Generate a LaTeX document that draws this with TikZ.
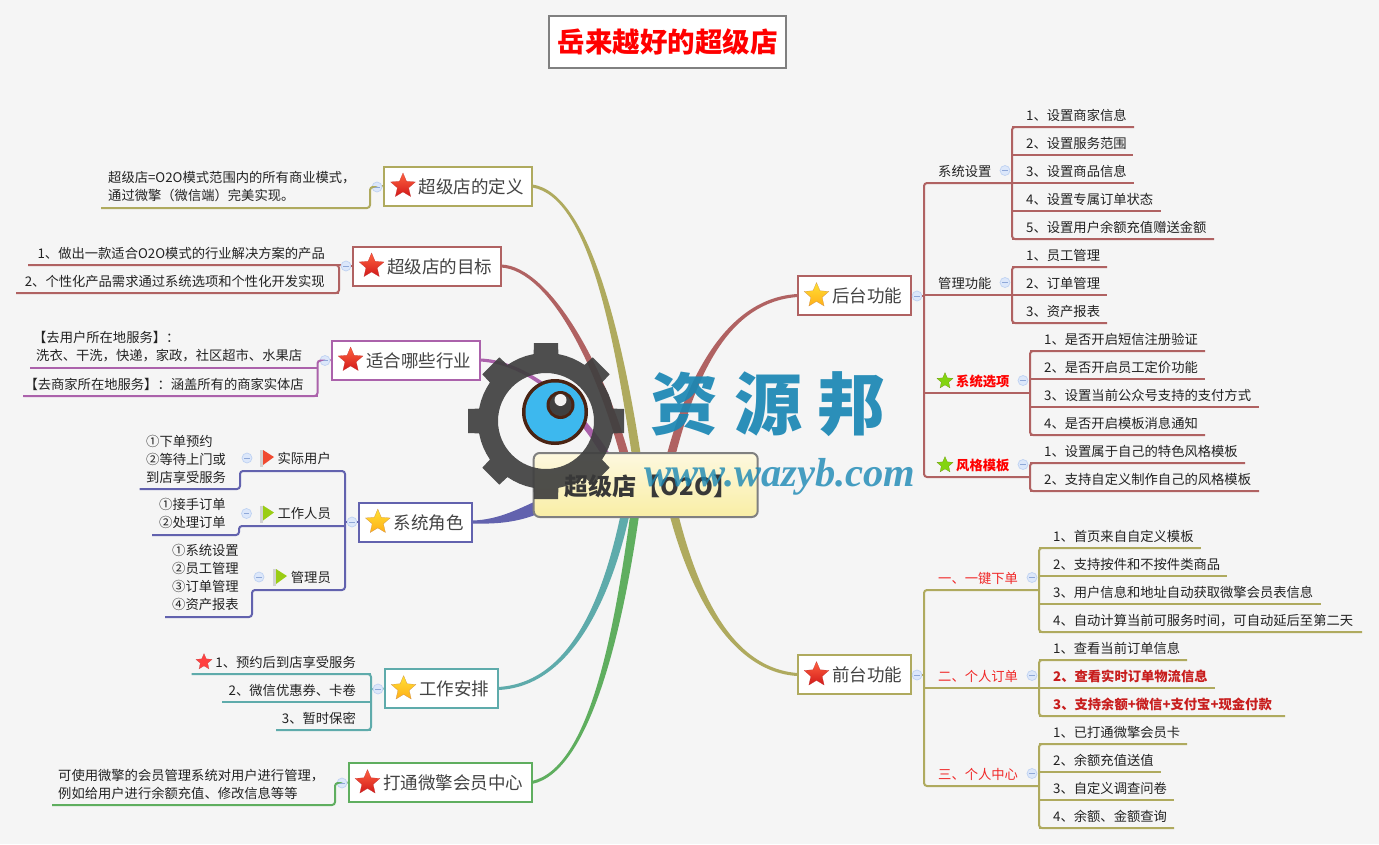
\documentclass[tikz,border=0pt]{standalone}
\usepackage{fontspec}
\setmainfont{Noto Sans CJK SC}
\newfontfamily\wmark{Liberation Serif}
\usetikzlibrary{shapes.geometric,calc}
\definecolor{bgc}{HTML}{F5F5F5}
\definecolor{colA}{HTML}{AFAA5E}
\definecolor{colB}{HTML}{B06262}
\definecolor{colC}{HTML}{AB62AB}
\definecolor{colD}{HTML}{6262AE}
\definecolor{colE}{HTML}{5EABAB}
\definecolor{colF}{HTML}{5FAE5F}
\definecolor{gearc}{HTML}{404040}
\definecolor{wmblue}{HTML}{1A87B4}
\definecolor{txt}{HTML}{222222}
\definecolor{redt}{HTML}{F02828}
\definecolor{redb}{HTML}{C81E1E}
\definecolor{flagred}{HTML}{F04A30}
\definecolor{flaggreen}{HTML}{9ACD14}
\definecolor{eyeblue}{HTML}{3DB8EE}
\definecolor{eyering}{HTML}{4A2414}
\definecolor{btnfill}{HTML}{DCE7FA}
\definecolor{btnline}{HTML}{BFD2F2}
\definecolor{btnbar}{HTML}{8FA8D8}
\pgfdeclarelayer{bglayer}\pgfdeclarelayer{curves}
\pgfsetlayers{bglayer,curves,main}
\tikzset{
 leaf/.style={inner sep=0pt,text=txt,font=\fontsize{13.3}{18}\selectfont},
 multi/.style={leaf,align=left},
 conn/.style={draw=cur,line width=2pt},
 spine/.style={draw=cur,line width=2pt,rounded corners=3pt},
 topic/.style={draw=cur,line width=2pt,outer sep=0pt,fill=white,minimum height=39pt,inner xsep=8.7pt,inner ysep=0pt,text height=17pt,text depth=2.5pt,text=txt!85!white,font=\fontsize{17.5}{20}\selectfont},
 sublab/.style={inner sep=0pt,text=txt,font=\fontsize{13.3}{18}\selectfont},
 btnc/.style={circle,minimum size=10pt,inner sep=0pt,fill=btnfill,draw=btnline,line width=.7pt,
   path picture={\draw[btnbar,line width=.8pt] ([xshift=-2.6pt]path picture bounding box.center) -- ([xshift=2.6pt]path picture bounding box.center);}},
 starbase/.style={star,star points=5,star point ratio=2.2,inner sep=0pt},
 redstar/.style={starbase,minimum size=26pt,top color=red!65!orange!75,bottom color=red!80!black!90,draw=red!70!black!80,line width=.2pt},
 goldstar/.style={starbase,minimum size=26pt,top color=yellow!70!orange!80,bottom color=orange!70!yellow!90,draw=orange!70!black!70,line width=.2pt},
 smallred/.style={starbase,minimum size=17pt,fill=red!75,draw=red!70!black!70,line width=.2pt},
 greenstar/.style={starbase,minimum size=17pt,fill=flaggreen!85!green,draw=flaggreen!70!black,line width=.2pt},
}
\newcommand\leafR[6]{\coordinate (#1s) at (#2,#4);\coordinate (#1e) at (#3,#4);
 \node[leaf,anchor=base west] (#1) at (#5,#4-7) {#6};\draw[conn] (#1s) -- (#1e);}
\newcommand\leafL[6]{\coordinate (#1s) at (#2,#4);\coordinate (#1e) at (#3,#4);
 \node[leaf,anchor=base east] (#1) at (#5,#4-7) {#6};\draw[conn] (#1s) -- (#1e);}
% start, control 1, control 2, end, half widths at the end
\newcommand\taper[6]{\begin{pgfonlayer}{curves}\fill[cur] ([yshift=1.5pt]#1) .. controls ([yshift=2.2pt]#2) and ([xshift=#5,yshift=#6]#3) .. ([xshift=#5,yshift=#6]#4) -- ([xshift=-#5,yshift=-#6]#4) .. controls ([xshift=-#5,yshift=-#6]#3) and ([yshift=-2.2pt]#2) .. ([yshift=-1.5pt]#1) -- cycle;\end{pgfonlayer}}
\newcommand\flagicon[4]{\fill[gray!35] (#2,#3-8) rectangle (#2+3,#3+9);
 \fill[#4] (#2+3,#3-8) -- (#2+14,#3-1) -- (#2+3,#3+7) -- cycle;\coordinate (#1) at (#2,#3);}
\begin{document}
\begin{tikzpicture}[x=1pt,y=-1pt]
\begin{pgfonlayer}{bglayer}
\path[use as bounding box,fill=bgc] (0,0) rectangle (1379,844);
\end{pgfonlayer}
% title
\node[draw=gray,line width=2pt,outer sep=0pt,fill=white,minimum width=237pt,minimum height=52pt,inner sep=0pt,text=red,font=\fontsize{27.5}{30}\bfseries\selectfont] (title) at (667.5,42) {岳来越好的超级店};
% central box
\definecolor{cctop}{HTML}{FDF8DF}\definecolor{ccbot}{HTML}{F9EEA5}
\node[draw=gray,line width=2pt,outer sep=0pt,rounded corners=6pt,top color=cctop,bottom color=ccbot,minimum width=224pt,minimum height=64pt] (cc) at (645.7,485) {};
\coordinate (o1) at (640,480);\coordinate (o2) at (631,480);\coordinate (o3) at (620,480);
\coordinate (o4) at (545,504);\coordinate (o5) at (630,490);\coordinate (o6) at (638,490);
\coordinate (o7) at (668,490);\coordinate (o8) at (665,480);

% ---------- left: definition
\colorlet{cur}{colA}
\node[topic,anchor=west] (t1) at (384,186) {\hspace*{26pt}超级店的定义};
\node[redstar] (s1) at ($(t1.west)+(19,0)$) {};
\node[btnc] (b1) at (377,187) {};
\node[multi,anchor=west] (d1) at (108,187) {超级店=O2O模式范围内的所有商业模式，\\通过微擎（微信端）完美实现。};
\coordinate (d1s) at (370,187);\coordinate (d1c) at (370,208);\coordinate (d1e) at (101,208);
\draw[conn] (t1.west) -- (b1);\draw[spine] (b1) -- (d1s) -- (d1c) -- (d1e);
\taper{t1.east}{590,195}{620,340}{o1}{4.5pt}{0pt}

% ---------- left: goal
\colorlet{cur}{colB}
\node[topic,anchor=west] (t2) at (352.6,266) {\hspace*{26pt}超级店的目标};
\node[redstar] (s2) at ($(t2.west)+(19,0)$) {};
\node[btnc] (b2) at (346,266) {};
\leafL{g1}{339}{28}{265}{325}{1、做出一款适合O2O模式的行业解决方案的产品}
\leafL{g2}{339}{16}{293}{325}{2、个性化产品需求通过系统选项和个性化开发实现}
\draw[conn] (t2.west) -- (b2);\draw[conn] (b2) -- (g1s);
\draw[spine] (g1e) -- (g1s) -- (g2s) -- (g2e);
\taper{t2.east}{550,268}{605,370}{o2}{4.5pt}{0pt}

% ---------- left: industry
\colorlet{cur}{colC}
\node[topic,anchor=west] (t3) at (331.6,360) {\hspace*{26pt}适合哪些行业};
\node[redstar] (s3) at ($(t3.west)+(19,0)$) {};
\node[btnc] (b3) at (325,360.5) {};
\node[multi,anchor=west] (i1) at (33,347) {【去用户所在地服务】：\\\hspace*{3pt}洗衣、干洗，快递，家政，社区超市、水果店};
\coordinate (i1s) at (317.5,368);\coordinate (i1e) at (30,368);\coordinate (i0) at (317.5,360.5);
\leafL{i2}{317.5}{23.4}{396}{304}{【去商家所在地服务】：涵盖所有的商家实体店}
\draw[conn] (t3.west) -- (b3);\draw[conn] (i1s) -- (i1e);
\draw[spine] (b3) -- (i0) -- (i2s) -- (i2e);
\taper{t3.east}{530,362}{585,410}{o3}{4.5pt}{0pt}

% ---------- left: roles
\colorlet{cur}{colD}
\node[topic,anchor=west] (t4) at (358.8,522) {\hspace*{26pt}系统角色};
\node[goldstar] (s4) at ($(t4.west)+(19,0)$) {};
\node[btnc] (b4) at (352,522) {};
\node[sublab,anchor=east] (r1) at (331,458) {实际用户};
\node[sublab,anchor=east] (r2) at (331,513.5) {工作人员};
\node[sublab,anchor=east] (r3) at (331,577) {管理员};
\flagicon{f1}{260}{458}{flagred}
\flagicon{f2}{260}{513.5}{flaggreen}
\flagicon{f3}{273}{577}{flaggreen}
\node[btnc] (b41) at (247,458) {};
\node[btnc] (b42) at (246.5,513.5) {};
\node[btnc] (b43) at (259,577) {};
\node[multi,anchor=west] (m1) at (146,459) {①下单预约\\②等待上门或\\到店享受服务};
\node[multi,anchor=west] (m2) at (159,513) {①接手订单\\②处理订单};
\node[multi,anchor=west] (m3) at (172,577) {①系统设置\\②员工管理\\③订单管理\\④资产报表};
\coordinate (p0) at (345,522);
\coordinate (p1) at (345,471);\coordinate (p1a) at (240,471);\coordinate (p1b) at (240,489);\coordinate (p1c) at (139.5,489);
\coordinate (p2) at (345,526);\coordinate (p2a) at (239,526);\coordinate (p2b) at (239,535);\coordinate (p2c) at (152,535);
\coordinate (p3) at (345,590);\coordinate (p3a) at (252,590);\coordinate (p3b) at (252,617);\coordinate (p3c) at (165,617);
\draw[conn] (t4.west) -- (b4);\draw[conn] (b4) -- (p0);
\draw[spine] (p1c) -- (p1b) -- (p1a) -- (p1) -- (p3) -- (p3a) -- (p3b) -- (p3c);
\draw[spine] (p2) -- (p2a) -- (p2b) -- (p2c);
\taper{t4.east}{500,522}{520,515}{o4}{0pt}{7pt}

% ---------- left: work
\colorlet{cur}{colE}
\node[topic,anchor=west] (t5) at (384.6,688.5) {\hspace*{26pt}工作安排};
\node[goldstar] (s5) at ($(t5.west)+(19,0)$) {};
\node[btnc] (b5) at (378,689) {};
\leafL{w1}{371}{191.5}{674}{356}{1、预约后到店享受服务}
\leafL{w2}{371}{222}{702}{356}{2、微信优惠券、卡卷}
\leafL{w3}{371}{276}{730}{356}{3、暂时保密}
\node[smallred] (s51) at (204,662) {};
\draw[conn] (t5.west) -- (b5);\draw[conn] (b5) -- ($(w1s)!.27!(w3s)$);
\draw[spine] (w1e) -- (w1s) -- (w3s) -- (w3e);
\taper{t5.east}{570,685}{610,600}{o5}{-4.5pt}{0pt}

% ---------- left: member centre
\colorlet{cur}{colF}
\node[topic,anchor=west] (t6) at (348.5,782.5) {\hspace*{26pt}打通微擎会员中心};
\node[redstar] (s6) at ($(t6.west)+(19,0)$) {};
\node[btnc] (b6) at (342,783) {};
\node[multi,anchor=west] (v1) at (58,784) {可使用微擎的会员管理系统对用户进行管理，\\例如给用户进行余额充值、修改信息等等};
\coordinate (v1s) at (335,783);\coordinate (v1c) at (335,805);\coordinate (v1e) at (52,805);
\draw[conn] (t6.west) -- (b6);\draw[spine] (b6) -- (v1s) -- (v1c) -- (v1e);
\taper{t6.east}{590,770}{620,630}{o6}{-4.5pt}{0pt}

% ---------- right: back end
\colorlet{cur}{colB}
\node[topic,anchor=west] (t7) at (797.5,295.5) {\hspace*{26pt}后台功能};
\node[goldstar] (s7) at ($(t7.west)+(19,0)$) {};
\node[btnc] (b7) at (917,296) {};
\node[sublab,anchor=base west] (a1) at (938,176) {系统设置};
\node[sublab,anchor=base west] (a2) at (938,288) {管理功能};
\node[sublab,anchor=base west,text=red,font=\fontsize{13.3}{18}\bfseries\selectfont] (a3) at (956,386) {系统选项};
\node[sublab,anchor=base west,text=red,font=\fontsize{13.3}{18}\bfseries\selectfont] (a4) at (956,470) {风格模板};
\node[greenstar] (sa3) at (945,381) {};
\node[greenstar] (sa4) at (945,465) {};
\node[btnc] (ba1) at (1005,170.5) {};
\node[btnc] (ba2) at (1005,282.5) {};
\node[btnc] (ba3) at (1023,380.5) {};
\node[btnc] (ba4) at (1023,464.5) {};
\leafR{a11}{1012}{1134}{127}{1026}{1、设置商家信息}
\leafR{a12}{1012}{1133}{155}{1026}{2、设置服务范围}
\leafR{a13}{1012}{1134}{183}{1026}{3、设置商品信息}
\leafR{a14}{1012}{1161}{211}{1026}{4、设置专属订单状态}
\leafR{a15}{1012}{1214}{239}{1026}{5、设置用户余额充值赠送金额}
\draw[spine] (a11e) -- (a11s) -- (a15s) -- (a15e);
\leafR{a21}{1012}{1107}{267}{1026}{1、员工管理}
\leafR{a22}{1012}{1107}{295}{1026}{2、订单管理}
\leafR{a23}{1012}{1107}{323}{1026}{3、资产报表}
\draw[spine] (a21e) -- (a21s) -- (a23s) -- (a23e);
\leafR{a31}{1030}{1205}{351}{1044}{1、是否开启短信注册验证}
\leafR{a32}{1030}{1205}{379}{1044}{2、是否开启员工定价功能}
\leafR{a33}{1030}{1259}{407}{1044}{3、设置当前公众号支持的支付方式}
\leafR{a34}{1030}{1205}{435}{1044}{4、是否开启模板消息通知}
\draw[spine] (a31e) -- (a31s) -- (a34s) -- (a34e);
\leafR{a41}{1030}{1245}{463}{1044}{1、设置属于自己的特色风格模板}
\leafR{a42}{1030}{1259}{491}{1044}{2、支持自定义制作自己的风格模板}
\draw[spine] (a41e) -- (a41s) -- (a42s) -- (a42e);
\coordinate (ra0) at (924,296);
\coordinate (ra1) at (924,183);\coordinate (ra4) at (924,477);
\coordinate (ra2) at (924,295);\coordinate (ra3) at (924,393);
\coordinate (ra2e) at (1012,295);\coordinate (ra3e) at (1030,393);
\coordinate (ra1e) at (1012,183);\coordinate (ra4e) at (1030,477);
\draw[conn] (t7.east) -- (b7);\draw[conn] (b7) -- (ra0);
\draw[spine] (ra1e) -- (ra1) -- (ra4) -- (ra4e);
\draw[conn] (ra2) -- (ra2e);\draw[conn] (ra3) -- (ra3e);
\taper{t7.west}{730,300}{690,370}{o8}{-4.5pt}{0pt}

% ---------- right: front end
\colorlet{cur}{colA}
\node[topic,anchor=west] (t8) at (797.5,674.5) {\hspace*{26pt}前台功能};
\node[redstar] (s8) at ($(t8.west)+(19,0)$) {};
\node[btnc] (b8) at (917,675) {};
\node[sublab,anchor=base west,text=redt] (e1) at (938,583) {一、一键下单};
\node[sublab,anchor=base west,text=redt] (e2) at (938,681) {二、个人订单};
\node[sublab,anchor=base west,text=redt] (e3) at (938,779) {三、个人中心};
\node[btnc] (be1) at (1032,577.5) {};
\node[btnc] (be2) at (1032,675.5) {};
\node[btnc] (be3) at (1032,773.5) {};
\leafR{e11}{1039}{1200.5}{548}{1053}{1、首页来自自定义模板}
\leafR{e12}{1039}{1226.5}{576}{1053}{2、支持按件和不按件类商品}
\leafR{e13}{1039}{1321}{604}{1053}{3、用户信息和地址自动获取微擎会员表信息}
\leafR{e14}{1039}{1362}{632}{1053}{4、自动计算当前可服务时间，可自动延后至第二天}
\draw[spine] (e11e) -- (e11s) -- (e14s) -- (e14e);
\leafR{e21}{1039}{1187}{660}{1053}{1、查看当前订单信息}
\leafR{e22}{1039}{1215}{688}{1053}{\textcolor{redb}{\bfseries 2、查看实时订单物流信息}}
\leafR{e23}{1039}{1285}{716}{1053}{\textcolor{redb}{\bfseries 3、支持余额+微信+支付宝+现金付款}}
\draw[spine] (e21e) -- (e21s) -- (e23s) -- (e23e);
\leafR{e31}{1039}{1187}{744}{1053}{1、已打通微擎会员卡}
\leafR{e32}{1039}{1161}{772}{1053}{2、余额充值送值}
\leafR{e33}{1039}{1174}{800}{1053}{3、自定义调查问卷}
\leafR{e34}{1039}{1174}{828}{1053}{4、余额、金额查询}
\draw[spine] (e31e) -- (e31s) -- (e34s) -- (e34e);
\coordinate (rb0) at (924,675);
\coordinate (rb1) at (924,590);\coordinate (rb1e) at (1039,590);
\coordinate (rb2) at (924,688);\coordinate (rb2e) at (1039,688);
\coordinate (rb3) at (924,786);\coordinate (rb3e) at (1039,786);
\draw[conn] (t8.east) -- (b8);\draw[conn] (b8) -- (rb0);
\draw[spine] (rb1e) -- (rb1) -- (rb3) -- (rb3e);
\draw[conn] (rb2) -- (rb2e);
\taper{t8.west}{730,670}{690,590}{o7}{4.5pt}{0pt}

% ---------- watermark: gear and eye
\coordinate (g) at (546,421);
\begin{scope}[transparency group,opacity=.92]
\foreach \a in {0,45,...,315}
  \fill[gearc,rotate around={\a:(g)}] (534,343) -- (558,343) -- (559,370) -- (533,370) -- cycle;
\draw[gearc,line width=20pt] (g) circle[radius=58];
\end{scope}
\fill[eyering] (555,412) circle[radius=33];
\fill[eyeblue] (555,412) circle[radius=29.5];
\fill[eyering] (560.5,405) circle[radius=14];
\fill[gearc] (560.5,405) circle[radius=11];
\fill[white!90!gray] (560.5,400) circle[radius=6];
% central label goes above the gear
\node[inner sep=0pt,text=txt!90!white,font=\fontsize{24}{26}\bfseries\selectfont] (cct) at (651,486) {超级店【O2O】};
\node[inner sep=0pt,text=wmblue,opacity=.92,font=\fontsize{68}{70}\bfseries\selectfont] (wm1) at (768,404) {资 源 邦};
\node[inner sep=0pt,text=wmblue,opacity=.8,font=\wmark\bfseries\itshape\fontsize{40.5}{44}\selectfont] (wm2) at (780,477) {www.wazyb.com};
\end{tikzpicture}
\end{document}
